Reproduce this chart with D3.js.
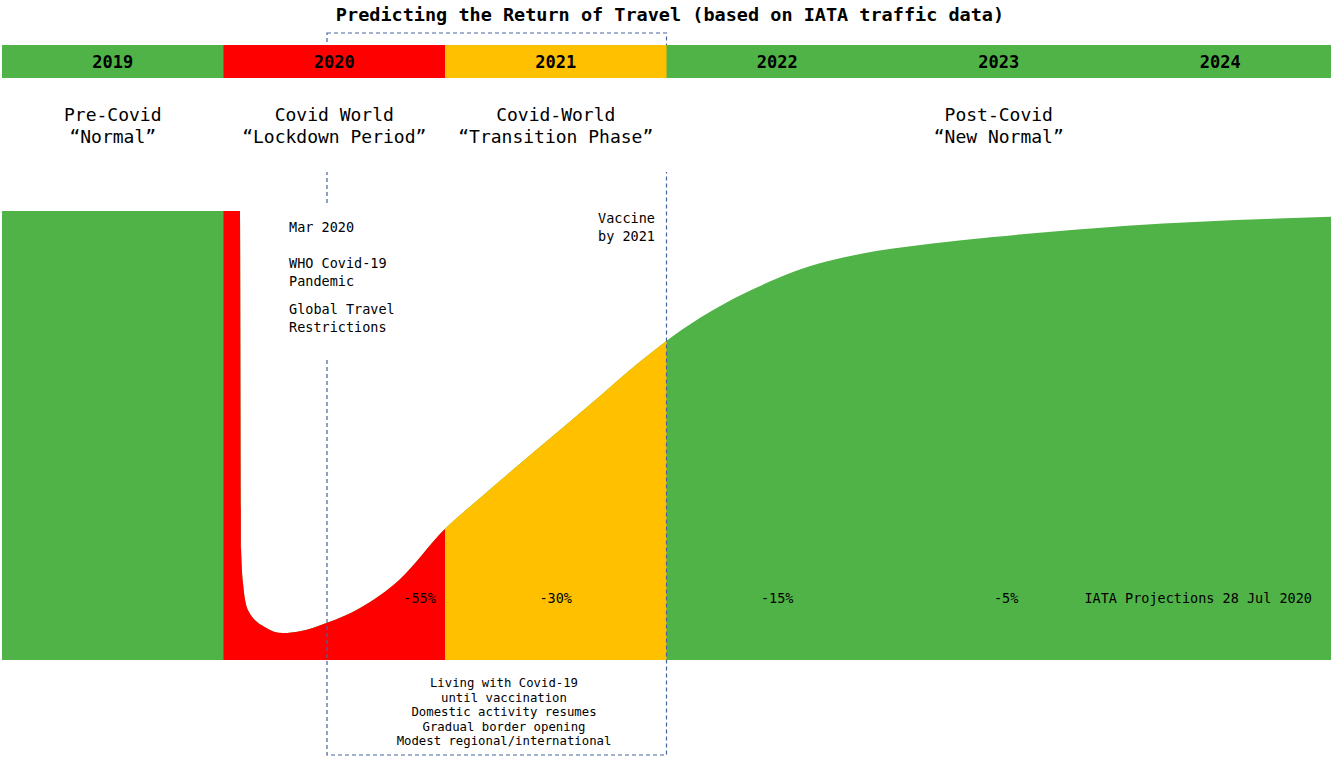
<!DOCTYPE html>
<html>
<head>
<meta charset="utf-8">
<script src="https://cdn.jsdelivr.net/npm/d3@7"></script>
<style>
  html, body { margin: 0; padding: 0; background: #fff; }
  svg { display: block; }
  text { font-family: "DejaVu Sans Mono", monospace; fill: #000; }
</style>
</head>
<body>
<div id="chart"></div>
<script>
// years shown in the header band, with their colour
const years = [2019, 2020, 2021, 2022, 2023, 2024];
const yearColors = ['#50b347', '#ff0000', '#ffc000', '#50b347', '#50b347', '#50b347'];

// traffic level (% of 2019) by month since Jan 2019
const months = [0, 12.89, 12.95, 13.06, 13.33, 14.25, 15.22, 16.15, 17.61, 19.4, 21.56, 23.95,
  25.9, 28.06, 30.23, 32.4, 34.56, 35.92, 37.82, 39.28, 41.07, 42.85, 46.48, 50.28, 53.69, 60.95, 72];
const traffic = [100, 100, 24.9, 16.9, 11.1, 7.3, 6, 6.4, 8.3, 11.6, 18, 29,
  36.1, 43.7, 51.2, 58.8, 66.4, 70.8, 76.2, 79.7, 83.3, 86.4, 90.4, 92.7, 94.2, 96.7, 98.7];

// phase labels (centre month, two lines)
const phaseMonths = [6, 18, 30, 54];
const phaseLine1 = ['Pre-Covid', 'Covid World', 'Covid-World', 'Post-Covid'];
const phaseLine2 = ['\u201cNormal\u201d', '\u201cLockdown Period\u201d', '\u201cTransition Phase\u201d', '\u201cNew Normal\u201d'];

// IATA impact vs 2019
const impactLabels = ['-55%', '-30%', '-15%', '-5%'];
const impactMonths = [23.5, 30, 42, 54.4];
const impactAnchors = ['end', 'middle', 'middle', 'middle'];

const eventNotes = ['Mar 2020', 'WHO Covid-19', 'Pandemic', 'Global Travel', 'Restrictions'];
const eventNoteY = [232, 268, 286, 314, 332];
const vaccineNote = ['Vaccine', 'by 2021'];
const transitionNotes = ['Living with Covid-19', 'until vaccination', 'Domestic activity resumes',
  'Gradual border opening', 'Modest regional/international'];

const width = 1331, height = 758;
const plotTop = 211, plotBottom = 660;

const x = d3.scaleLinear().domain([0, 72]).range([2, 1331]);
const y = d3.scaleLinear().domain([0, 100]).range([plotBottom, plotTop]);

const svg = d3.select('#chart').append('svg')
  .attr('width', width)
  .attr('height', height);

// title
svg.append('text')
  .attr('x', 670).attr('y', 21)
  .attr('text-anchor', 'middle')
  .attr('font-size', 18.5)
  .attr('font-weight', 'bold')
  .text('Predicting the Return of Travel (based on IATA traffic data)');

// area coloured by year: green underneath, 2020/2021 clipped on top
const area = d3.area()
  .x((d, i) => x(months[i]))
  .y0(y(0))
  .y1(d => y(d))
  .curve(d3.curveMonotoneX);

svg.append('path')
  .datum(traffic)
  .attr('fill', yearColors[0])
  .attr('d', area);

const defs = svg.append('defs');
years.forEach((yr, i) => {
  if (yearColors[i] === yearColors[0]) return;
  defs.append('clipPath').attr('id', 'clip' + yr)
    .append('rect')
    .attr('x', x(i * 12)).attr('y', 0)
    .attr('width', x((i + 1) * 12) - x(i * 12))
    .attr('height', height);
  svg.append('path')
    .datum(traffic)
    .attr('clip-path', `url(#clip${yr})`)
    .attr('fill', yearColors[i])
    .attr('d', area);
});

// dashed box around the lockdown/transition phase
svg.append('rect')
  .attr('x', 327).attr('y', 33)
  .attr('width', x(36) - 327).attr('height', 755 - 33)
  .attr('fill', 'none')
  .attr('stroke', '#44649f')
  .attr('stroke-width', 1.2)
  .attr('stroke-dasharray', '4,3');

// header band
const band = svg.append('g');
band.selectAll('rect')
  .data(years)
  .join('rect')
  .attr('x', (d, i) => x(i * 12))
  .attr('y', 45)
  .attr('width', (d, i) => x((i + 1) * 12) - x(i * 12) + 0.6)
  .attr('height', 33)
  .attr('fill', (d, i) => yearColors[i]);
band.selectAll('text')
  .data(years)
  .join('text')
  .attr('x', (d, i) => x(i * 12 + 6))
  .attr('y', 68)
  .attr('text-anchor', 'middle')
  .attr('font-size', 17)
  .attr('font-weight', 'bold')
  .text(d => d);

// phase labels (white box hides the dashed lines behind them)
svg.append('rect')
  .attr('x', 0).attr('y', 78).attr('width', width).attr('height', 94)
  .attr('fill', '#fff');
const phases = svg.append('g').attr('font-size', 18);
phases.selectAll('text.l1')
  .data(phaseLine1)
  .join('text')
  .attr('class', 'l1')
  .attr('x', (d, i) => x(phaseMonths[i]))
  .attr('y', 121)
  .attr('text-anchor', 'middle')
  .text(d => d);
phases.selectAll('text.l2')
  .data(phaseLine2)
  .join('text')
  .attr('class', 'l2')
  .attr('x', (d, i) => x(phaseMonths[i]))
  .attr('y', 143)
  .attr('text-anchor', 'middle')
  .text(d => d);

// event notes
svg.append('rect')
  .attr('x', 280).attr('y', 205).attr('width', 120).attr('height', 153)
  .attr('fill', '#fff');
svg.append('g').attr('font-size', 13.5)
  .selectAll('text')
  .data(eventNotes)
  .join('text')
  .attr('x', 289)
  .attr('y', (d, i) => eventNoteY[i])
  .text(d => d);

svg.append('g').attr('font-size', 13.5)
  .selectAll('text')
  .data(vaccineNote)
  .join('text')
  .attr('x', 655)
  .attr('y', (d, i) => 223 + i * 18)
  .attr('text-anchor', 'end')
  .text(d => d);

// impact labels
svg.append('g').attr('font-size', 13.5)
  .selectAll('text')
  .data(impactLabels)
  .join('text')
  .attr('x', (d, i) => x(impactMonths[i]))
  .attr('y', 603)
  .attr('text-anchor', (d, i) => impactAnchors[i])
  .text(d => d);

svg.append('text')
  .attr('x', 1312).attr('y', 603)
  .attr('text-anchor', 'end')
  .attr('font-size', 13.5)
  .text('IATA Projections 28 Jul 2020');

// transition notes under the chart
svg.append('g').attr('font-size', 12.3)
  .selectAll('text')
  .data(transitionNotes)
  .join('text')
  .attr('x', 504)
  .attr('y', (d, i) => 687 + i * 14.5)
  .attr('text-anchor', 'middle')
  .text(d => d);
</script>
</body>
</html>
